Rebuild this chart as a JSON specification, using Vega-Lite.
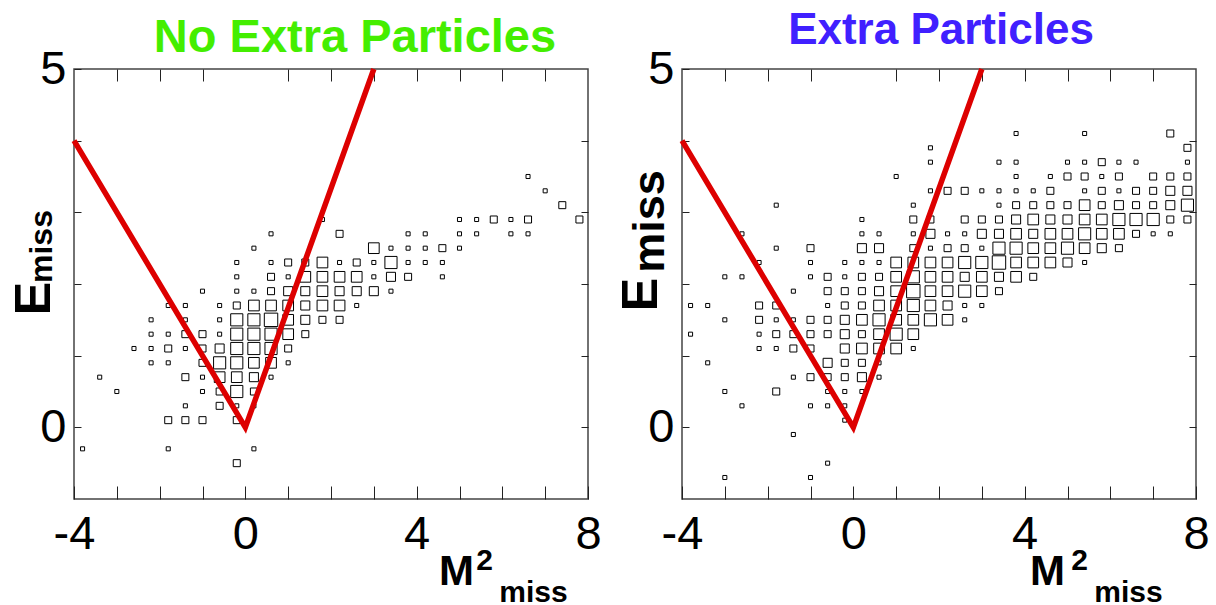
{
  "$schema": "https://vega.github.io/schema/vega-lite/v6.json",
  "padding": {"left": 8, "top": 8, "right": 5, "bottom": 0},
  "background": "white",
  "datasets": {
    "left": [
      {"x": 6.6, "y": 3.5, "n": 1},
      {"x": 7.0, "y": 3.3, "n": 1},
      {"x": 7.4, "y": 3.1, "n": 2},
      {"x": 1.8, "y": 2.9, "n": 1}, {"x": 5.0, "y": 2.9, "n": 1}, {"x": 5.4, "y": 2.9, "n": 1}, {"x": 5.8, "y": 2.9, "n": 2}, {"x": 6.2, "y": 2.9, "n": 1}, {"x": 6.6, "y": 2.9, "n": 2}, {"x": 7.8, "y": 2.9, "n": 2},
      {"x": 0.6, "y": 2.7, "n": 1}, {"x": 2.2, "y": 2.7, "n": 2}, {"x": 3.8, "y": 2.7, "n": 1}, {"x": 4.2, "y": 2.7, "n": 1}, {"x": 5.0, "y": 2.7, "n": 1}, {"x": 5.4, "y": 2.7, "n": 1}, {"x": 6.2, "y": 2.7, "n": 1}, {"x": 6.6, "y": 2.7, "n": 1},
      {"x": 0.2, "y": 2.5, "n": 1}, {"x": 3.0, "y": 2.5, "n": 4}, {"x": 3.4, "y": 2.5, "n": 1}, {"x": 3.8, "y": 2.5, "n": 1}, {"x": 4.2, "y": 2.5, "n": 1}, {"x": 4.6, "y": 2.5, "n": 2}, {"x": 5.0, "y": 2.5, "n": 1},
      {"x": -0.2, "y": 2.3, "n": 1}, {"x": 0.6, "y": 2.3, "n": 1}, {"x": 1.0, "y": 2.3, "n": 2}, {"x": 1.4, "y": 2.3, "n": 2}, {"x": 1.8, "y": 2.3, "n": 4}, {"x": 2.2, "y": 2.3, "n": 1}, {"x": 2.6, "y": 2.3, "n": 2}, {"x": 3.0, "y": 2.3, "n": 1}, {"x": 3.4, "y": 2.3, "n": 5}, {"x": 3.8, "y": 2.3, "n": 1}, {"x": 4.2, "y": 2.3, "n": 1}, {"x": 4.6, "y": 2.3, "n": 1},
      {"x": -0.2, "y": 2.1, "n": 1}, {"x": 0.6, "y": 2.1, "n": 2}, {"x": 1.0, "y": 2.1, "n": 1}, {"x": 1.4, "y": 2.1, "n": 4}, {"x": 1.8, "y": 2.1, "n": 4}, {"x": 2.2, "y": 2.1, "n": 4}, {"x": 2.6, "y": 2.1, "n": 4}, {"x": 3.0, "y": 2.1, "n": 1}, {"x": 3.4, "y": 2.1, "n": 3}, {"x": 3.8, "y": 2.1, "n": 2}, {"x": 4.6, "y": 2.1, "n": 1},
      {"x": -1.0, "y": 1.9, "n": 1}, {"x": -0.2, "y": 1.9, "n": 1}, {"x": 0.2, "y": 1.9, "n": 1}, {"x": 0.6, "y": 1.9, "n": 2}, {"x": 1.0, "y": 1.9, "n": 3}, {"x": 1.4, "y": 1.9, "n": 3}, {"x": 1.8, "y": 1.9, "n": 4}, {"x": 2.2, "y": 1.9, "n": 3}, {"x": 2.6, "y": 1.9, "n": 3}, {"x": 3.0, "y": 1.9, "n": 3}, {"x": 3.4, "y": 1.9, "n": 1},
      {"x": -1.8, "y": 1.7, "n": 1}, {"x": -1.4, "y": 1.7, "n": 1}, {"x": -0.6, "y": 1.7, "n": 1}, {"x": -0.2, "y": 1.7, "n": 2}, {"x": 0.2, "y": 1.7, "n": 4}, {"x": 0.6, "y": 1.7, "n": 4}, {"x": 1.0, "y": 1.7, "n": 4}, {"x": 1.4, "y": 1.7, "n": 3}, {"x": 1.8, "y": 1.7, "n": 4}, {"x": 2.2, "y": 1.7, "n": 4}, {"x": 2.6, "y": 1.7, "n": 1},
      {"x": -2.2, "y": 1.5, "n": 1}, {"x": -1.4, "y": 1.5, "n": 1}, {"x": -0.6, "y": 1.5, "n": 1}, {"x": -0.2, "y": 1.5, "n": 5}, {"x": 0.2, "y": 1.5, "n": 5}, {"x": 0.6, "y": 1.5, "n": 6}, {"x": 1.0, "y": 1.5, "n": 4}, {"x": 1.4, "y": 1.5, "n": 3}, {"x": 1.8, "y": 1.5, "n": 2}, {"x": 2.2, "y": 1.5, "n": 2},
      {"x": -2.2, "y": 1.3, "n": 1}, {"x": -1.8, "y": 1.3, "n": 1}, {"x": -1.4, "y": 1.3, "n": 2}, {"x": -1.0, "y": 1.3, "n": 2}, {"x": -0.6, "y": 1.3, "n": 1}, {"x": -0.2, "y": 1.3, "n": 5}, {"x": 0.2, "y": 1.3, "n": 5}, {"x": 0.6, "y": 1.3, "n": 5}, {"x": 1.0, "y": 1.3, "n": 4}, {"x": 1.4, "y": 1.3, "n": 2},
      {"x": -2.6, "y": 1.1, "n": 1}, {"x": -2.2, "y": 1.1, "n": 1}, {"x": -1.8, "y": 1.1, "n": 2}, {"x": -1.4, "y": 1.1, "n": 1}, {"x": -1.0, "y": 1.1, "n": 2}, {"x": -0.6, "y": 1.1, "n": 3}, {"x": -0.2, "y": 1.1, "n": 5}, {"x": 0.2, "y": 1.1, "n": 5}, {"x": 0.6, "y": 1.1, "n": 5}, {"x": 1.0, "y": 1.1, "n": 2},
      {"x": -2.2, "y": 0.9, "n": 1}, {"x": -1.8, "y": 0.9, "n": 1}, {"x": -1.0, "y": 0.9, "n": 2}, {"x": -0.6, "y": 0.9, "n": 5}, {"x": -0.2, "y": 0.9, "n": 5}, {"x": 0.2, "y": 0.9, "n": 4}, {"x": 0.6, "y": 0.9, "n": 4}, {"x": 1.0, "y": 0.9, "n": 1},
      {"x": -3.4, "y": 0.7, "n": 1}, {"x": -1.4, "y": 0.7, "n": 2}, {"x": -1.0, "y": 0.7, "n": 1}, {"x": -0.6, "y": 0.7, "n": 4}, {"x": -0.2, "y": 0.7, "n": 4}, {"x": 0.2, "y": 0.7, "n": 3}, {"x": 0.6, "y": 0.7, "n": 1},
      {"x": -3.0, "y": 0.5, "n": 1}, {"x": -1.0, "y": 0.5, "n": 1}, {"x": -0.6, "y": 0.5, "n": 2}, {"x": -0.2, "y": 0.5, "n": 5}, {"x": 0.2, "y": 0.5, "n": 2},
      {"x": -1.4, "y": 0.3, "n": 1}, {"x": -0.6, "y": 0.3, "n": 2}, {"x": -0.2, "y": 0.3, "n": 1}, {"x": 0.2, "y": 0.3, "n": 1},
      {"x": -1.8, "y": 0.1, "n": 2}, {"x": -1.4, "y": 0.1, "n": 2}, {"x": -1.0, "y": 0.1, "n": 2}, {"x": -0.2, "y": 0.1, "n": 2},
      {"x": -3.8, "y": -0.3, "n": 1}, {"x": -1.8, "y": -0.3, "n": 1}, {"x": 0.2, "y": -0.3, "n": 1},
      {"x": -0.2, "y": -0.5, "n": 2}
    ],
    "right": [
      {"x": 3.8, "y": 4.1, "n": 1}, {"x": 5.4, "y": 4.1, "n": 1}, {"x": 7.4, "y": 4.1, "n": 2},
      {"x": 1.8, "y": 3.9, "n": 1}, {"x": 7.8, "y": 3.9, "n": 2},
      {"x": 1.8, "y": 3.7, "n": 1}, {"x": 3.4, "y": 3.7, "n": 1}, {"x": 3.8, "y": 3.7, "n": 1}, {"x": 5.0, "y": 3.7, "n": 1}, {"x": 5.4, "y": 3.7, "n": 1}, {"x": 5.8, "y": 3.7, "n": 2}, {"x": 6.2, "y": 3.7, "n": 1}, {"x": 6.6, "y": 3.7, "n": 1}, {"x": 7.8, "y": 3.7, "n": 1},
      {"x": 1.0, "y": 3.5, "n": 1}, {"x": 3.8, "y": 3.5, "n": 1}, {"x": 4.6, "y": 3.5, "n": 1}, {"x": 5.0, "y": 3.5, "n": 2}, {"x": 5.4, "y": 3.5, "n": 2}, {"x": 5.8, "y": 3.5, "n": 1}, {"x": 6.2, "y": 3.5, "n": 2}, {"x": 7.0, "y": 3.5, "n": 2}, {"x": 7.4, "y": 3.5, "n": 2}, {"x": 7.8, "y": 3.5, "n": 2},
      {"x": 1.8, "y": 3.3, "n": 1}, {"x": 2.2, "y": 3.3, "n": 2}, {"x": 2.6, "y": 3.3, "n": 2}, {"x": 3.0, "y": 3.3, "n": 1}, {"x": 3.4, "y": 3.3, "n": 1}, {"x": 3.8, "y": 3.3, "n": 1}, {"x": 4.2, "y": 3.3, "n": 1}, {"x": 4.6, "y": 3.3, "n": 2}, {"x": 5.4, "y": 3.3, "n": 1}, {"x": 5.8, "y": 3.3, "n": 2}, {"x": 6.2, "y": 3.3, "n": 1}, {"x": 6.6, "y": 3.3, "n": 2}, {"x": 7.0, "y": 3.3, "n": 2}, {"x": 7.4, "y": 3.3, "n": 3}, {"x": 7.8, "y": 3.3, "n": 3},
      {"x": -1.8, "y": 3.1, "n": 1}, {"x": 1.4, "y": 3.1, "n": 1}, {"x": 3.4, "y": 3.1, "n": 1}, {"x": 3.8, "y": 3.1, "n": 2}, {"x": 4.2, "y": 3.1, "n": 2}, {"x": 4.6, "y": 3.1, "n": 2}, {"x": 5.0, "y": 3.1, "n": 2}, {"x": 5.4, "y": 3.1, "n": 4}, {"x": 5.8, "y": 3.1, "n": 2}, {"x": 6.2, "y": 3.1, "n": 3}, {"x": 6.6, "y": 3.1, "n": 2}, {"x": 7.0, "y": 3.1, "n": 2}, {"x": 7.4, "y": 3.1, "n": 3}, {"x": 7.8, "y": 3.1, "n": 5},
      {"x": 0.2, "y": 2.9, "n": 1}, {"x": 1.4, "y": 2.9, "n": 2}, {"x": 1.8, "y": 2.9, "n": 2}, {"x": 2.6, "y": 2.9, "n": 2}, {"x": 3.0, "y": 2.9, "n": 2}, {"x": 3.4, "y": 2.9, "n": 2}, {"x": 3.8, "y": 2.9, "n": 3}, {"x": 4.2, "y": 2.9, "n": 4}, {"x": 4.6, "y": 2.9, "n": 3}, {"x": 5.0, "y": 2.9, "n": 3}, {"x": 5.4, "y": 2.9, "n": 4}, {"x": 5.8, "y": 2.9, "n": 4}, {"x": 6.2, "y": 2.9, "n": 5}, {"x": 6.6, "y": 2.9, "n": 5}, {"x": 7.0, "y": 2.9, "n": 5}, {"x": 7.4, "y": 2.9, "n": 2}, {"x": 7.8, "y": 2.9, "n": 2},
      {"x": -2.6, "y": 2.7, "n": 1}, {"x": 0.2, "y": 2.7, "n": 1}, {"x": 0.6, "y": 2.7, "n": 1}, {"x": 1.4, "y": 2.7, "n": 1}, {"x": 1.8, "y": 2.7, "n": 3}, {"x": 2.2, "y": 2.7, "n": 1}, {"x": 2.6, "y": 2.7, "n": 1}, {"x": 3.0, "y": 2.7, "n": 3}, {"x": 3.4, "y": 2.7, "n": 3}, {"x": 3.8, "y": 2.7, "n": 4}, {"x": 4.2, "y": 2.7, "n": 3}, {"x": 4.6, "y": 2.7, "n": 4}, {"x": 5.0, "y": 2.7, "n": 4}, {"x": 5.4, "y": 2.7, "n": 5}, {"x": 5.8, "y": 2.7, "n": 4}, {"x": 6.2, "y": 2.7, "n": 4}, {"x": 6.6, "y": 2.7, "n": 2}, {"x": 7.0, "y": 2.7, "n": 1}, {"x": 7.4, "y": 2.7, "n": 1},
      {"x": -1.8, "y": 2.5, "n": 1}, {"x": -1.0, "y": 2.5, "n": 2}, {"x": 0.2, "y": 2.5, "n": 3}, {"x": 0.6, "y": 2.5, "n": 3}, {"x": 1.4, "y": 2.5, "n": 2}, {"x": 1.8, "y": 2.5, "n": 1}, {"x": 2.2, "y": 2.5, "n": 2}, {"x": 2.6, "y": 2.5, "n": 2}, {"x": 3.0, "y": 2.5, "n": 1}, {"x": 3.4, "y": 2.5, "n": 5}, {"x": 3.8, "y": 2.5, "n": 5}, {"x": 4.2, "y": 2.5, "n": 4}, {"x": 4.6, "y": 2.5, "n": 4}, {"x": 5.0, "y": 2.5, "n": 5}, {"x": 5.4, "y": 2.5, "n": 4}, {"x": 5.8, "y": 2.5, "n": 3}, {"x": 6.2, "y": 2.5, "n": 2},
      {"x": -2.2, "y": 2.3, "n": 1}, {"x": -1.0, "y": 2.3, "n": 1}, {"x": -0.2, "y": 2.3, "n": 1}, {"x": 0.2, "y": 2.3, "n": 1}, {"x": 0.6, "y": 2.3, "n": 1}, {"x": 1.0, "y": 2.3, "n": 4}, {"x": 1.4, "y": 2.3, "n": 4}, {"x": 1.8, "y": 2.3, "n": 4}, {"x": 2.2, "y": 2.3, "n": 4}, {"x": 2.6, "y": 2.3, "n": 5}, {"x": 3.0, "y": 2.3, "n": 5}, {"x": 3.4, "y": 2.3, "n": 6}, {"x": 3.8, "y": 2.3, "n": 4}, {"x": 4.2, "y": 2.3, "n": 4}, {"x": 4.6, "y": 2.3, "n": 4}, {"x": 5.0, "y": 2.3, "n": 3}, {"x": 5.4, "y": 2.3, "n": 1},
      {"x": -3.0, "y": 2.1, "n": 1}, {"x": -2.6, "y": 2.1, "n": 1}, {"x": -1.0, "y": 2.1, "n": 1}, {"x": -0.6, "y": 2.1, "n": 2}, {"x": -0.2, "y": 2.1, "n": 1}, {"x": 0.2, "y": 2.1, "n": 2}, {"x": 0.6, "y": 2.1, "n": 2}, {"x": 1.0, "y": 2.1, "n": 4}, {"x": 1.4, "y": 2.1, "n": 5}, {"x": 1.8, "y": 2.1, "n": 4}, {"x": 2.2, "y": 2.1, "n": 4}, {"x": 2.6, "y": 2.1, "n": 3}, {"x": 3.0, "y": 2.1, "n": 4}, {"x": 3.4, "y": 2.1, "n": 3}, {"x": 3.8, "y": 2.1, "n": 4}, {"x": 4.2, "y": 2.1, "n": 2},
      {"x": -1.4, "y": 1.9, "n": 1}, {"x": -0.6, "y": 1.9, "n": 2}, {"x": -0.2, "y": 1.9, "n": 2}, {"x": 0.2, "y": 1.9, "n": 2}, {"x": 0.6, "y": 1.9, "n": 3}, {"x": 1.0, "y": 1.9, "n": 4}, {"x": 1.4, "y": 1.9, "n": 6}, {"x": 1.8, "y": 1.9, "n": 4}, {"x": 2.2, "y": 1.9, "n": 4}, {"x": 2.6, "y": 1.9, "n": 5}, {"x": 3.0, "y": 1.9, "n": 4}, {"x": 3.4, "y": 1.9, "n": 2},
      {"x": -3.8, "y": 1.7, "n": 1}, {"x": -3.4, "y": 1.7, "n": 1}, {"x": -2.2, "y": 1.7, "n": 2}, {"x": -1.8, "y": 1.7, "n": 2}, {"x": -0.6, "y": 1.7, "n": 1}, {"x": -0.2, "y": 1.7, "n": 2}, {"x": 0.2, "y": 1.7, "n": 2}, {"x": 0.6, "y": 1.7, "n": 4}, {"x": 1.0, "y": 1.7, "n": 4}, {"x": 1.4, "y": 1.7, "n": 5}, {"x": 1.8, "y": 1.7, "n": 4}, {"x": 2.2, "y": 1.7, "n": 3}, {"x": 2.6, "y": 1.7, "n": 1}, {"x": 3.0, "y": 1.7, "n": 1},
      {"x": -3.0, "y": 1.5, "n": 1}, {"x": -2.2, "y": 1.5, "n": 2}, {"x": -1.8, "y": 1.5, "n": 1}, {"x": -1.4, "y": 1.5, "n": 1}, {"x": -1.0, "y": 1.5, "n": 2}, {"x": -0.6, "y": 1.5, "n": 2}, {"x": -0.2, "y": 1.5, "n": 3}, {"x": 0.2, "y": 1.5, "n": 4}, {"x": 0.6, "y": 1.5, "n": 5}, {"x": 1.0, "y": 1.5, "n": 4}, {"x": 1.4, "y": 1.5, "n": 4}, {"x": 1.8, "y": 1.5, "n": 5}, {"x": 2.2, "y": 1.5, "n": 4}, {"x": 2.6, "y": 1.5, "n": 1},
      {"x": -3.8, "y": 1.3, "n": 1}, {"x": -2.2, "y": 1.3, "n": 1}, {"x": -1.8, "y": 1.3, "n": 2}, {"x": -1.4, "y": 1.3, "n": 2}, {"x": -1.0, "y": 1.3, "n": 2}, {"x": -0.6, "y": 1.3, "n": 2}, {"x": -0.2, "y": 1.3, "n": 3}, {"x": 0.2, "y": 1.3, "n": 2}, {"x": 0.6, "y": 1.3, "n": 4}, {"x": 1.0, "y": 1.3, "n": 5}, {"x": 1.4, "y": 1.3, "n": 4},
      {"x": -2.2, "y": 1.1, "n": 1}, {"x": -1.8, "y": 1.1, "n": 1}, {"x": -1.4, "y": 1.1, "n": 2}, {"x": -1.0, "y": 1.1, "n": 2}, {"x": -0.2, "y": 1.1, "n": 3}, {"x": 0.2, "y": 1.1, "n": 4}, {"x": 0.6, "y": 1.1, "n": 4}, {"x": 1.0, "y": 1.1, "n": 4}, {"x": 1.4, "y": 1.1, "n": 1},
      {"x": -3.4, "y": 0.9, "n": 1}, {"x": -0.6, "y": 0.9, "n": 3}, {"x": -0.2, "y": 0.9, "n": 2}, {"x": 0.2, "y": 0.9, "n": 2}, {"x": 0.6, "y": 0.9, "n": 1},
      {"x": -1.4, "y": 0.7, "n": 1}, {"x": -1.0, "y": 0.7, "n": 2}, {"x": -0.6, "y": 0.7, "n": 2}, {"x": -0.2, "y": 0.7, "n": 2}, {"x": 0.2, "y": 0.7, "n": 3}, {"x": 0.6, "y": 0.7, "n": 1},
      {"x": -3.0, "y": 0.5, "n": 1}, {"x": -1.8, "y": 0.5, "n": 2}, {"x": -0.6, "y": 0.5, "n": 1}, {"x": -0.2, "y": 0.5, "n": 1}, {"x": 0.2, "y": 0.5, "n": 1},
      {"x": -2.6, "y": 0.3, "n": 1}, {"x": -1.0, "y": 0.3, "n": 1}, {"x": -0.6, "y": 0.3, "n": 1}, {"x": -0.2, "y": 0.3, "n": 1},
      {"x": -0.2, "y": 0.1, "n": 1},
      {"x": -1.4, "y": -0.1, "n": 1},
      {"x": -0.6, "y": -0.5, "n": 1},
      {"x": -3.0, "y": -0.7, "n": 1}, {"x": -1.0, "y": -0.7, "n": 1}
    ],
    "cut": [
      {"x": -4, "y": 4, "k": 1},
      {"x": 0, "y": 0, "k": 2},
      {"x": 3, "y": 5, "k": 3}
    ]
  },
  "hconcat": [
    {
      "width": 514,
      "height": 430,
      "title": {"text": "No Extra Particles", "color": "#44ee00", "fontSize": 47, "dx": 24, "dy": 32, "offset": 15},
      "resolve": {"axis": {"x": "independent", "y": "independent"}},
      "layer": [
        {
          "data": {"name": "left"},
          "mark": {"type": "square", "filled": false, "color": "black", "strokeWidth": 1, "opacity": 1},
          "encoding": {
            "x": {"field": "x", "type": "quantitative", "scale": {"domain": [-4, 8], "nice": false, "zero": false},
              "axis": {"orient": "bottom", "values": [-4, -3, -2, -1, 0, 1, 2, 3, 4, 5, 6, 7, 8], "labelExpr": "datum.value % 4 === 0 ? '' + datum.value : ''", "tickSize": -13, "labelPadding": 25, "title": "M", "titleX": 382, "titleY": 85, "titleFontSize": 42}},
            "y": {"field": "y", "type": "quantitative", "scale": {"domain": [-1, 5], "nice": false, "zero": false},
              "axis": {"orient": "left", "values": [0, 1, 2, 3, 4, 5], "labelExpr": "datum.value === 0 || datum.value === 5 ? '' + datum.value : ''", "tickSize": -7, "labelPadding": 15, "title": "E", "titleX": -25, "titleY": 229, "titleAngle": 270, "titleFontSize": 50}},
            "size": {"field": "n", "type": "quantitative", "scale": {"domain": [0.5, 6], "range": [0, 180], "zero": false}, "legend": null}
          }
        },
        {
          "mark": {"type": "rule", "color": "#333", "strokeWidth": 1},
          "encoding": {
            "x": {"datum": 0, "type": "quantitative", "axis": {"orient": "top", "values": [-3, -2, -1, 1, 2, 3, 4, 5, 6, 7], "tickSize": -12, "labels": false, "title": null}},
            "y": {"datum": -1, "type": "quantitative", "axis": {"orient": "left", "labels": false, "ticks": false, "title": "miss", "titleX": -23, "titleY": 177, "titleAngle": 270, "titleFontSize": 32}},
            "y2": {"datum": 5}
          }
        },
        {
          "mark": {"type": "rule", "color": "#333", "strokeWidth": 1},
          "encoding": {
            "y": {"datum": 0, "type": "quantitative", "axis": {"orient": "right", "values": [0, 1, 2, 3, 4], "tickSize": -7, "labels": false, "title": null}},
            "x": {"datum": -4, "type": "quantitative", "axis": {"orient": "bottom", "labels": false, "ticks": false, "title": "2", "titleX": 410, "titleY": 70, "titleFontSize": 30}},
            "x2": {"datum": 8}
          }
        },
        {
          "data": {"name": "cut"},
          "mark": {"type": "line", "color": "#dd0000", "strokeWidth": 5.5, "strokeJoin": "miter", "strokeCap": "butt"},
          "encoding": {
            "x": {"field": "x", "type": "quantitative", "axis": {"orient": "bottom", "labels": false, "ticks": false, "title": "miss", "titleX": 459, "titleY": 102, "titleFontSize": 30}},
            "y": {"field": "y", "type": "quantitative", "axis": null},
            "order": {"field": "k", "type": "quantitative"}
          }
        }
      ]
    },
    {
      "width": 514,
      "height": 430,
      "title": {"text": "Extra Particles", "color": "#4020ff", "fontSize": 44, "dx": 2, "dy": 31, "offset": 23},
      "resolve": {"axis": {"x": "independent", "y": "independent"}},
      "layer": [
        {
          "data": {"name": "right"},
          "mark": {"type": "square", "filled": false, "color": "black", "strokeWidth": 1, "opacity": 1},
          "encoding": {
            "x": {"field": "x", "type": "quantitative", "scale": {"domain": [-4, 8], "nice": false, "zero": false},
              "axis": {"orient": "bottom", "values": [-4, -3, -2, -1, 0, 1, 2, 3, 4, 5, 6, 7, 8], "labelExpr": "datum.value % 4 === 0 ? '' + datum.value : ''", "tickSize": -13, "labelPadding": 25, "title": "M", "titleX": 365, "titleY": 85, "titleFontSize": 42}},
            "y": {"field": "y", "type": "quantitative", "scale": {"domain": [-1, 5], "nice": false, "zero": false},
              "axis": {"orient": "left", "values": [0, 1, 2, 3, 4, 5], "labelExpr": "datum.value === 0 || datum.value === 5 ? '' + datum.value : ''", "tickSize": -7, "labelPadding": 15, "title": "E", "titleX": -26, "titleY": 225, "titleAngle": 270, "titleFontSize": 50}},
            "size": {"field": "n", "type": "quantitative", "scale": {"domain": [0.5, 6], "range": [0, 180], "zero": false}, "legend": null}
          }
        },
        {
          "mark": {"type": "rule", "color": "#333", "strokeWidth": 1},
          "encoding": {
            "x": {"datum": 0, "type": "quantitative", "axis": {"orient": "top", "values": [-3, -2, -1, 1, 2, 3, 4, 5, 6, 7], "tickSize": -12, "labels": false, "title": null}},
            "y": {"datum": -1, "type": "quantitative", "axis": {"orient": "left", "labels": false, "ticks": false, "title": "miss", "titleX": -19, "titleY": 152, "titleAngle": 270, "titleFontSize": 45}},
            "y2": {"datum": 5}
          }
        },
        {
          "mark": {"type": "rule", "color": "#333", "strokeWidth": 1},
          "encoding": {
            "y": {"datum": 0, "type": "quantitative", "axis": {"orient": "right", "values": [0, 1, 2, 3, 4], "tickSize": -7, "labels": false, "title": null}},
            "x": {"datum": -4, "type": "quantitative", "axis": {"orient": "bottom", "labels": false, "ticks": false, "title": "2", "titleX": 397, "titleY": 70, "titleFontSize": 30}},
            "x2": {"datum": 8}
          }
        },
        {
          "data": {"name": "cut"},
          "mark": {"type": "line", "color": "#dd0000", "strokeWidth": 5.5, "strokeJoin": "miter", "strokeCap": "butt"},
          "encoding": {
            "x": {"field": "x", "type": "quantitative", "axis": {"orient": "bottom", "labels": false, "ticks": false, "title": "miss", "titleX": 446, "titleY": 102, "titleFontSize": 30}},
            "y": {"field": "y", "type": "quantitative", "axis": null},
            "order": {"field": "k", "type": "quantitative"}
          }
        }
      ]
    }
  ],
  "spacing": 94,
  "bounds": "flush",
  "config": {
    "view": {"stroke": "#444", "strokeWidth": 1.5},
    "axis": {"grid": false, "domain": false, "labelFont": "Liberation Sans", "labelFontSize": 47, "labelColor": "black", "labelFlush": false, "labelOverlap": false, "tickColor": "#222", "tickWidth": 1, "titleFont": "Liberation Sans", "titleFontWeight": "bold", "titleColor": "black", "titleAlign": "center", "titleBaseline": "alphabetic", "titlePadding": 0},
    "title": {"font": "Liberation Sans", "fontWeight": "bold", "anchor": "middle", "frame": "group", "baseline": "alphabetic"}
  }
}
